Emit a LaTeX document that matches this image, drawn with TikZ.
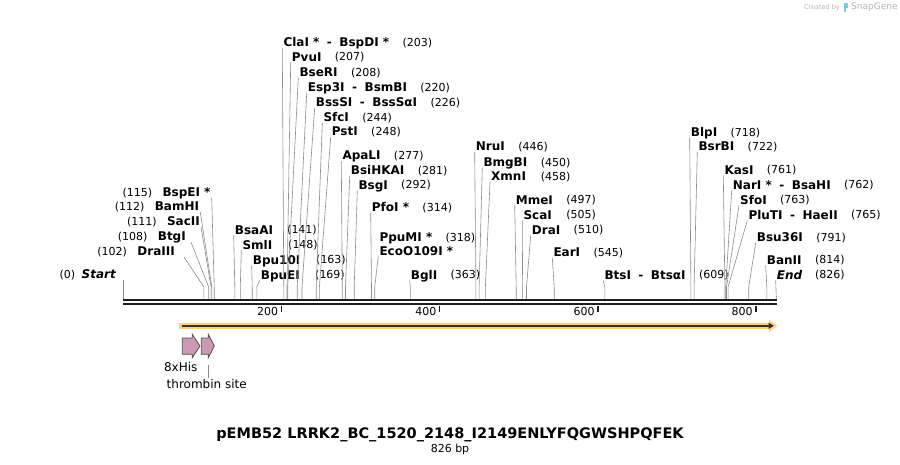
\documentclass[tikz,border=0pt]{standalone}
\usepackage{fontspec}
\setmainfont{DejaVu Sans}
\usetikzlibrary{arrows.meta,positioning}

\definecolor{leadgray}{HTML}{8C8C8C}
\definecolor{bbblack}{HTML}{1E1E1E}
\definecolor{cdsorange}{HTML}{FFD07C}
\definecolor{cdsdark}{HTML}{3C3428}
\definecolor{tagpink}{HTML}{CC99B4}
\definecolor{tagedge}{HTML}{505050}
\definecolor{credgray}{HTML}{B4B4B4}
\definecolor{credblue}{HTML}{7CC8EE}

\newcommand{\dsh}{\hspace{7.5pt}-\hspace{7.5pt}}

\tikzset{
  enz/.style={anchor=west, inner sep=1pt, text height=8.5pt, text depth=0pt,
    font=\fontsize{12}{14}\selectfont\bfseries},
  enzl/.style={enz, anchor=east},
  num/.style={inner sep=1pt, text height=8pt, text depth=0pt,
    font=\fontsize{11}{13}\selectfont},
  leader/.style={draw=leadgray, line width=0.6pt},
  ticklab/.style={anchor=east, inner sep=0pt, font=\fontsize{11}{13}\selectfont},
  tag/.style={fill=tagpink, draw=tagedge, line width=0.8pt, line join=miter},
}

\begin{document}
\begin{tikzpicture}[x=1pt, y=-1pt, node distance=11pt]
\useasboundingbox (0,0) rectangle (900,465);

% sites on the backbone
\coordinate (s0) at (123.3,299);
\coordinate (s102) at (203.9,299);
\coordinate (s108) at (208.7,299);
\coordinate (s111) at (211.1,299);
\coordinate (s112) at (211.8,299);
\coordinate (s115) at (214.2,299);
\coordinate (s141) at (234.8,299);
\coordinate (s148) at (240.3,299);
\coordinate (s163) at (252.2,299);
\coordinate (s169) at (256.9,299);
\coordinate (s203) at (283.8,299);
\coordinate (s207) at (287.0,299);
\coordinate (s208) at (287.7,299);
\coordinate (s220) at (297.2,299);
\coordinate (s226) at (302.0,299);
\coordinate (s244) at (316.2,299);
\coordinate (s248) at (319.4,299);
\coordinate (s277) at (342.3,299);
\coordinate (s281) at (345.5,299);
\coordinate (s292) at (354.2,299);
\coordinate (s314) at (371.5,299);
\coordinate (s318) at (374.7,299);
\coordinate (s363) at (410.3,299);
\coordinate (s446) at (475.9,299);
\coordinate (s450) at (479.1,299);
\coordinate (s458) at (485.4,299);
\coordinate (s497) at (516.2,299);
\coordinate (s505) at (522.6,299);
\coordinate (s510) at (526.5,299);
\coordinate (s545) at (554.2,299);
\coordinate (s609) at (604.8,299);
\coordinate (s718) at (690.9,299);
\coordinate (s722) at (694.1,299);
\coordinate (s761) at (724.9,299);
\coordinate (s762) at (725.7,299);
\coordinate (s763) at (726.5,299);
\coordinate (s765) at (728.1,299);
\coordinate (s791) at (748.7,299);
\coordinate (s814) at (766.8,299);
\coordinate (s826) at (776.3,299);

% labels left of their sites
\node[enzl] (bspE) at (211.7,192.3) {BspEI *};
\node[num, left=8pt of bspE] (nbspE) {(115)};
\node[enzl] (bam) at (200.3,206.7) {BamHI};
\node[num, left=8pt of bam] (nbam) {(112)};
\node[enzl] (sacII) at (201,221.7) {SacII};
\node[num, left=8pt of sacII] (nsacII) {(111)};
\node[enzl] (btg) at (187,236.7) {BtgI};
\node[num, left=8pt of btg] (nbtg) {(108)};
\node[enzl] (draIII) at (176,251.7) {DraIII};
\node[num, left=8pt of draIII] (ndraIII) {(102)};
\node[enzl] (start) at (117,274.3) {\itshape Start};
\node[num, left=4pt of start] (nstart) {(0)};

% labels right of their sites
\node[enz] (bsaA) at (233.7,230) {BsaAI};
\node[num] (nbsaA) at (302,230) {(141)};
\node[enz] (sml) at (241.3,245) {SmlI};
\node[num] (nsml) at (303,245) {(148)};
\node[enz] (bpuT) at (251.7,260) {Bpu10I};
\node[num] (nbpuT) at (331,260) {(163)};
\node[enz] (bpuE) at (259.7,275) {BpuEI};
\node[num] (nbpuE) at (330,275) {(169)};

\node[enz] (cla) at (282.3,42.7) {ClaI *\dsh BspDI *};
\node[num, right=of cla] (ncla) {(203)};
\node[enz] (pvu) at (290.7,57) {PvuI};
\node[num, right=of pvu] (npvu) {(207)};
\node[enz] (bseR) at (298.3,72.3) {BseRI};
\node[num, right=of bseR] (nbseR) {(208)};
\node[enz] (esp) at (306.7,87.3) {Esp3I\dsh BsmBI};
\node[num, right=of esp] (nesp) {(220)};
\node[enz] (bssS) at (314.7,102.3) {BssSI\dsh BssSαI};
\node[num, right=of bssS] (nbssS) {(226)};
\node[enz] (sfc) at (322.3,117.3) {SfcI};
\node[num, right=of sfc] (nsfc) {(244)};
\node[enz] (pst) at (330.7,131.7) {PstI};
\node[num, right=of pst] (npst) {(248)};
\node[enz] (apa) at (341.3,155.7) {ApaLI};
\node[num, right=of apa] (napa) {(277)};
\node[enz] (bsiH) at (349.7,170.7) {BsiHKAI};
\node[num, right=of bsiH] (nbsiH) {(281)};
\node[enz] (bsg) at (357.3,185) {BsgI};
\node[num, right=of bsg] (nbsg) {(292)};
\node[enz] (pfo) at (370.7,207.3) {PfoI *};
\node[num, right=of pfo] (npfo) {(314)};
\node[enz] (ppu) at (378.3,237.3) {PpuMI *};
\node[num, right=of ppu] (nppu) {(318)};
\node[enz] (eco) at (378.3,251) {EcoO109I *};
\node[enz] (bgl) at (409.7,275) {BglI};
\node[num, right=of bgl] (nbgl) {(363)};

\node[enz] (nru) at (474.7,146.7) {NruI};
\node[num, right=of nru] (nnru) {(446)};
\node[enz] (bmg) at (482.3,162.3) {BmgBI};
\node[num, right=of bmg] (nbmg) {(450)};
\node[enz] (xmn) at (490,176.7) {XmnI};
\node[num] (nxmn) at (nbmg |- xmn) {(458)};
\node[enz] (mme) at (514.7,200) {MmeI};
\node[num, right=of mme] (nmme) {(497)};
\node[enz] (sca) at (522.3,215) {ScaI};
\node[num] (nsca) at (nmme |- sca) {(505)};
\node[enz] (draI) at (530.7,230) {DraI};
\node[num, right=of draI] (ndraI) {(510)};
\node[enz] (ear) at (552.3,252.3) {EarI};
\node[num, right=of ear] (near) {(545)};
\node[enz] (bts) at (603.3,275) {BtsI\dsh BtsαI};
\node[num, right=of bts] (nbts) {(609)};

\node[enz] (blp) at (689.7,132.3) {BlpI};
\node[num, right=of blp] (nblp) {(718)};
\node[enz] (bsrB) at (697.3,146.7) {BsrBI};
\node[num, right=of bsrB] (nbsrB) {(722)};
\node[enz] (kas) at (723.3,170) {KasI};
\node[num, right=of kas] (nkas) {(761)};
\node[enz] (nar) at (731.7,185) {NarI *\dsh BsaHI};
\node[num, right=of nar] (nnar) {(762)};
\node[enz] (sfo) at (739,200) {SfoI};
\node[num, right=of sfo] (nsfo) {(763)};
\node[enz] (plu) at (747.3,215) {PluTI\dsh HaeII};
\node[num, right=of plu] (nplu) {(765)};
\node[enz] (bsu) at (755.7,237.3) {Bsu36I};
\node[num, right=of bsu] (nbsu) {(791)};
\node[enz] (ban) at (765.7,260) {BanII};
\node[num, right=of ban] (nban) {(814)};
\node[enz] (fin) at (775.7,275) {\itshape End};
\node[num] (nfin) at (nban |- fin) {(826)};

% leaders
\draw[leader] (bspE.south east) -- ([yshift=12pt]s115) -- (s115);
\draw[leader] (bam.south east) -- ([yshift=12pt]s112) -- (s112);
\draw[leader] (sacII.south east) -- ([yshift=12pt]s111) -- (s111);
\draw[leader] ([xshift=4pt]btg.south east) -- ([yshift=12pt]s108) -- (s108);
\draw[leader] ([xshift=8pt]draIII.south east) -- ([yshift=12pt]s102) -- (s102);
\draw[leader] (s0 |- start.south) -- (s0);
\draw[leader] (bsaA.south west) -- ([yshift=12pt]s141) -- (s141);
\draw[leader] (sml.south west) -- ([yshift=12pt]s148) -- (s148);
\draw[leader] (bpuT.south west) -- ([yshift=12pt]s163) -- (s163);
\draw[leader] (bpuE.south west) -- ([yshift=12pt]s169) -- (s169);
\draw[leader] (cla.south west) -- ([yshift=12pt]s203) -- (s203);
\draw[leader] (pvu.south west) -- ([yshift=12pt]s207) -- (s207);
\draw[leader] (bseR.south west) -- ([yshift=12pt]s208) -- (s208);
\draw[leader] (esp.south west) -- ([yshift=12pt]s220) -- (s220);
\draw[leader] (bssS.south west) -- ([yshift=12pt]s226) -- (s226);
\draw[leader] (sfc.south west) -- ([yshift=12pt]s244) -- (s244);
\draw[leader] (pst.south west) -- ([yshift=12pt]s248) -- (s248);
\draw[leader] (apa.south west) -- ([yshift=12pt]s277) -- (s277);
\draw[leader] (bsiH.south west) -- ([yshift=12pt]s281) -- (s281);
\draw[leader] (bsg.south west) -- ([yshift=12pt]s292) -- (s292);
\draw[leader] (pfo.south west) -- ([yshift=12pt]s314) -- (s314);
\draw[leader] (eco.south west) -- ([yshift=12pt]s318) -- (s318);
\draw[leader] (bgl.south west) -- ([yshift=12pt]s363) -- (s363);
\draw[leader] (nru.south west) -- ([yshift=12pt]s446) -- (s446);
\draw[leader] (bmg.south west) -- ([yshift=12pt]s450) -- (s450);
\draw[leader] (xmn.south west) -- ([yshift=12pt]s458) -- (s458);
\draw[leader] (mme.south west) -- ([yshift=12pt]s497) -- (s497);
\draw[leader] (sca.south west) -- ([yshift=12pt]s505) -- (s505);
\draw[leader] (draI.south west) -- ([yshift=12pt]s510) -- (s510);
\draw[leader] (ear.south west) -- ([yshift=12pt]s545) -- (s545);
\draw[leader] (bts.south west) -- ([yshift=12pt]s609) -- (s609);
\draw[leader] (blp.south west) -- ([yshift=12pt]s718) -- (s718);
\draw[leader] (bsrB.south west) -- ([yshift=12pt]s722) -- (s722);
\draw[leader] (kas.south west) -- ([yshift=12pt]s761) -- (s761);
\draw[leader] (nar.south west) -- ([yshift=12pt]s762) -- (s762);
\draw[leader] (sfo.south west) -- ([yshift=12pt]s763) -- (s763);
\draw[leader] (plu.south west) -- ([yshift=12pt]s765) -- (s765);
\draw[leader] (bsu.south west) -- ([yshift=12pt]s791) -- (s791);
\draw[leader] (ban.south west) -- ([yshift=12pt]s814) -- (s814);
\draw[leader] (fin.south west) -- (s826);

% backbone and ruler
\coordinate (bbl) at (123,300.2);
\coordinate (bbr) at (777,300.2);
\draw[bbblack, line width=2.3pt] (bbl) -- (bbr);
\draw[bbblack, line width=2.3pt] ([yshift=-4pt]bbl) -- ([yshift=-4pt]bbr);
\coordinate (t200) at (281.4,305.5);
\coordinate (t400) at (439.5,305.5);
\coordinate (t600) at (597.7,305.5);
\coordinate (t800) at (755.8,305.5);
\draw[bbblack, line width=1.8pt] (t200) -- ++(0,6) (t400) -- ++(0,6)
  (t600) -- ++(0,6) (t800) -- ++(0,6);
\node[ticklab] (l200) at ([xshift=-3pt,yshift=-5.5pt]t200) {200};
\node[ticklab] (l400) at ([xshift=-3pt,yshift=-5.5pt]t400) {400};
\node[ticklab] (l600) at ([xshift=-3pt,yshift=-5.5pt]t600) {600};
\node[ticklab] (l800) at ([xshift=-3pt,yshift=-5.5pt]t800) {800};

% features
\coordinate (cdsa) at (179,325.8);
\coordinate (cdsb) at (777,325.8);
\draw[cdsorange, line width=5.5pt, -{Triangle[length=8pt,width=12pt]}] (cdsa) -- (cdsb);
\draw[cdsdark, line width=1.6pt, -{Triangle[length=5.5pt,width=6pt]}] ([xshift=2.5pt]cdsa) -- ([xshift=-3pt]cdsb);

\draw[tag] (182.3,338) -- (192.3,338) -- (192.3,334.3) -- (200,346) -- (192.3,357.7)
  -- (192.3,354.3) -- (182.3,354.3) -- cycle;
\draw[tag] (201.3,338) -- (208.3,338) -- (208.3,334.3) -- (214.3,346) -- (208.3,357.7)
  -- (208.3,354.3) -- (201.3,354.3) -- cycle;
\node[inner sep=0pt, font=\fontsize{12}{14}\selectfont] (his) at (180.7,367.3) {8xHis};
\node[inner sep=0pt, anchor=west, font=\fontsize{12}{14}\selectfont] (thr) at (166.5,384) {thrombin site};
\coordinate (thrtop) at (208.3,365);
\draw[leader] (thrtop) -- ([yshift=1.5pt]thr.north -| thrtop);

% title
\node[font=\fontsize{14.5}{16}\selectfont\bfseries] (title) at (450,435) {pEMB52 LRRK2\_BC\_1520\_2148\_I2149ENLYFQGWSHPQFEK};
\node[font=\fontsize{11}{13}\selectfont] (len) at (450,449.5) {826 bp};

% credit
\node[anchor=east, inner sep=0pt, text=credgray, font=\fontsize{6.5}{8}\selectfont] (cred) at (840,7.5) {Created by};
\fill[credblue] (843.5,3) rectangle (846,12.5);
\fill[credblue] (846,3) rectangle (848,8.5);
\node[anchor=west, inner sep=0pt, text=credgray, font=\fontsize{9}{11}\selectfont] (snap) at (851,7.5) {SnapGene};
\end{tikzpicture}
\end{document}
